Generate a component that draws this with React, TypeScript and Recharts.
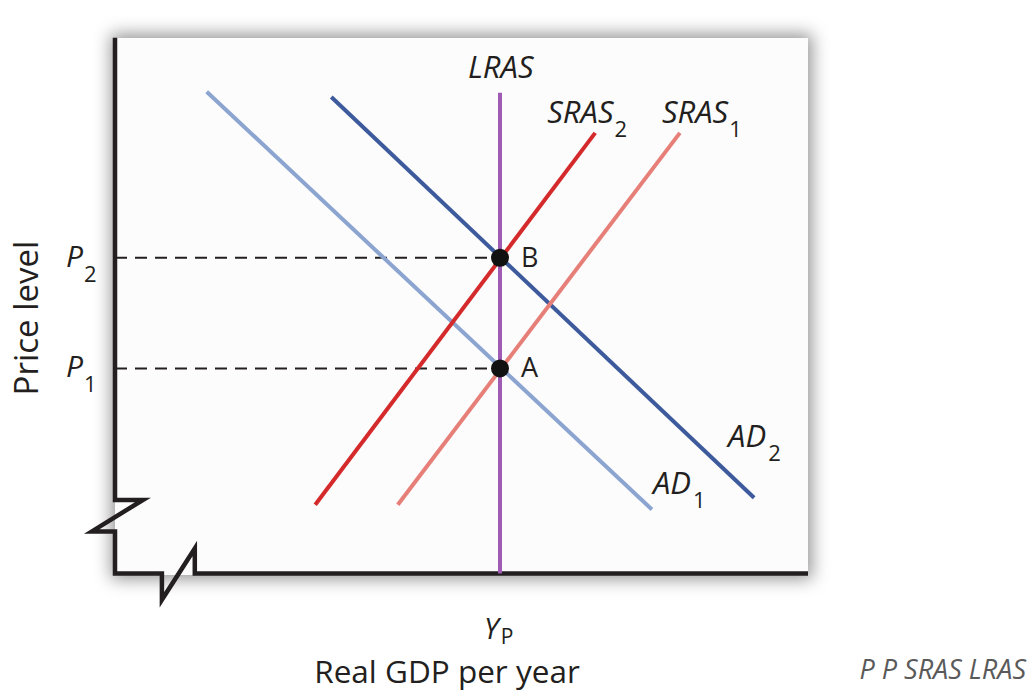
import React from 'react';
import { LineChart, Line, XAxis, YAxis, ReferenceDot } from 'recharts';

const FONT = '"Open Sans", "Noto Sans", sans-serif';
const INK = '#231f20';

// Equilibrium values (arbitrary units)
const Y_P = 5.5;
const P1 = 3.84;
const P2 = 5.91;

const priceTicks = [P1, P2];
const priceTickSubs = ['1', '2'];
const gdpTicks = [Y_P];
const gdpTickSubs = ['P'];

const lrasData = [{ x: Y_P, y: 0 }, { x: Y_P, y: 9.0 }];
const sras1Data = [{ x: 4.04, y: 1.29 }, { x: 8.07, y: 8.25 }];
const sras2Data = [{ x: 2.86, y: 1.29 }, { x: 6.86, y: 8.25 }];
const ad1Data = [{ x: 1.31, y: 9.02 }, { x: 7.67, y: 1.2 }];
const ad2Data = [{ x: 3.09, y: 8.92 }, { x: 9.13, y: 1.42 }];
const p1Guide = [{ x: 0, y: P1 }, { x: Y_P, y: P1 }];
const p2Guide = [{ x: 0, y: P2 }, { x: Y_P, y: P2 }];
const axisFrame = [
  { x: 0, y: 10.03 }, { x: 0, y: 1.38 }, { x: 0.4, y: 1.38 }, { x: -0.33, y: 0.79 },
  { x: 0, y: 0.79 }, { x: 0, y: 0 }, { x: 0.67, y: 0 }, { x: 0.67, y: -0.49 },
  { x: 1.14, y: 0.47 }, { x: 1.14, y: 0 }, { x: 9.9, y: 0 },
];

const getXY = (p: any) => {
  const x = p.x ?? p.viewBox?.x ?? 0;
  const y = p.y ?? p.viewBox?.y ?? 0;
  return { x: Number(x), y: Number(y) };
};

const curveLabel = (main: string, sub: string, idx: number, dx: number, dy: number, subDx = 2) => (p: any) => {
  if (p.index !== idx) return null;
  const { x, y } = getXY(p);
  return (
    <text x={x + dx} y={y + dy} fontFamily={FONT} fontSize={31} fill={INK}>
      <tspan fontStyle="italic">{main}</tspan>
      {sub ? <tspan fontSize={22} dx={subDx} dy={14}>{sub}</tspan> : null}
    </text>
  );
};

const pointLabel = (name: string) => (p: any) => {
  const vb = p.viewBox || {};
  const cx = Number(vb.x ?? 0) + Number(vb.width ?? 0) / 2;
  const cy = Number(vb.y ?? 0) + Number(vb.height ?? 0) / 2;
  return (
    <text x={cx + 21} y={cy + 9} fontFamily={FONT} fontSize={27} fill={INK}>{name}</text>
  );
};

const PriceTick = (p: any) => {
  const i = priceTicks.indexOf(p.payload.value);
  return (
    <text x={Number(p.x) - 14} y={Number(p.y) + 9} fontFamily={FONT} fontSize={30} fill={INK}>
      <tspan fontStyle="italic">P</tspan>
      <tspan fontSize={22} dx={1} dy={15}>{priceTickSubs[i]}</tspan>
    </text>
  );
};

const GdpTick = (p: any) => {
  const i = gdpTicks.indexOf(p.payload.value);
  return (
    <text x={Number(p.x) - 16} y={Number(p.y) + 28} fontFamily={FONT} fontSize={29} fill={INK}>
      <tspan fontStyle="italic">Y</tspan>
      <tspan fontSize={21} dx={2} dy={5}>{gdpTickSubs[i]}</tspan>
    </text>
  );
};

const XTitle = (p: any) => {
  const vb = p.viewBox || {};
  return (
    <text x={Number(vb.x) + 367} y={Number(vb.y) + 72} textAnchor="middle" fontFamily={FONT} fontSize={31.5} fill={INK}>
      Real GDP per year
    </text>
  );
};

const YTitle = (p: any) => {
  const vb = p.viewBox || {};
  const x = Number(vb.x) + 18;
  const y = 318;
  return (
    <text x={x} y={y} transform={`rotate(-90 ${x} ${y})`} textAnchor="middle" fontFamily={FONT} fontSize={33} fill={INK}>
      Price level
    </text>
  );
};

export default function App() {
  return (
    <div style={{ position: 'absolute', left: 0, top: 0, width: 1029, height: 692, background: '#ffffff', overflow: 'hidden' }}>
      <div
        style={{
          position: 'absolute', left: 115, top: 38, width: 693, height: 537,
          background: '#fcfcfc', boxShadow: '0 0 16px 4px rgba(0,0,0,0.42)',
        }}
      />
      <div style={{ position: 'absolute', left: 0, top: 0 }}>
        <LineChart width={1029} height={692} margin={{ top: 18, right: 179, bottom: 41, left: 20 }}>
          <XAxis
            type="number" dataKey="x" domain={[-0.5, 10.5]} allowDataOverflow
            ticks={gdpTicks} tick={<GdpTick />} tickSize={0} tickMargin={0}
            axisLine={false} tickLine={false} height={40} label={{ content: XTitle }}
          />
          <YAxis
            type="number" dataKey="y" domain={[-0.7, 10.4]} allowDataOverflow
            ticks={priceTicks} tick={<PriceTick />} tickSize={0} tickMargin={0}
            axisLine={false} tickLine={false} width={60} label={{ content: YTitle }}
          />
          <Line data={axisFrame} dataKey="y" stroke={INK} strokeWidth={4.5} strokeLinejoin="miter" dot={false} activeDot={false} isAnimationActive={false} />
          <Line data={p2Guide} dataKey="y" stroke={INK} strokeWidth={2} strokeDasharray="12 8" dot={false} activeDot={false} isAnimationActive={false} />
          <Line data={p1Guide} dataKey="y" stroke={INK} strokeWidth={2} strokeDasharray="12 8" dot={false} activeDot={false} isAnimationActive={false} />
          <Line data={ad1Data} dataKey="y" stroke="#8ba4d0" strokeWidth={4} dot={false} activeDot={false} isAnimationActive={false} label={curveLabel('AD', '1', 1, 1, -15, 2)} />
          <Line data={ad2Data} dataKey="y" stroke="#3d5a9c" strokeWidth={4} dot={false} activeDot={false} isAnimationActive={false} label={curveLabel('AD', '2', 1, -26, -51, 2)} />
          <Line data={sras1Data} dataKey="y" stroke="#e77f79" strokeWidth={4} dot={false} activeDot={false} isAnimationActive={false} label={curveLabel('SRAS', '1', 1, -18, -10, 1)} />
          <Line data={sras2Data} dataKey="y" stroke="#d42a2b" strokeWidth={4} dot={false} activeDot={false} isAnimationActive={false} label={curveLabel('SRAS', '2', 1, -48, -10, 1)} />
          <Line data={lrasData} dataKey="y" stroke="#a05cb5" strokeWidth={4} dot={false} activeDot={false} isAnimationActive={false} label={curveLabel('LRAS', '', 1, -32, -15)} />
          <ReferenceDot x={Y_P} y={P2} r={9} fill="#111" stroke="none" label={{ content: pointLabel('B') }} />
          <ReferenceDot x={Y_P} y={P1} r={9} fill="#111" stroke="none" label={{ content: pointLabel('A') }} />
        </LineChart>
      </div>
      <div
        style={{
          position: 'absolute', right: 3, top: 653, fontFamily: FONT, fontStyle: 'italic',
          fontSize: 27, color: '#5a5a5a', whiteSpace: 'nowrap', lineHeight: '32px',
        }}
      >
        P P SRAS LRAS
      </div>
    </div>
  );
}
